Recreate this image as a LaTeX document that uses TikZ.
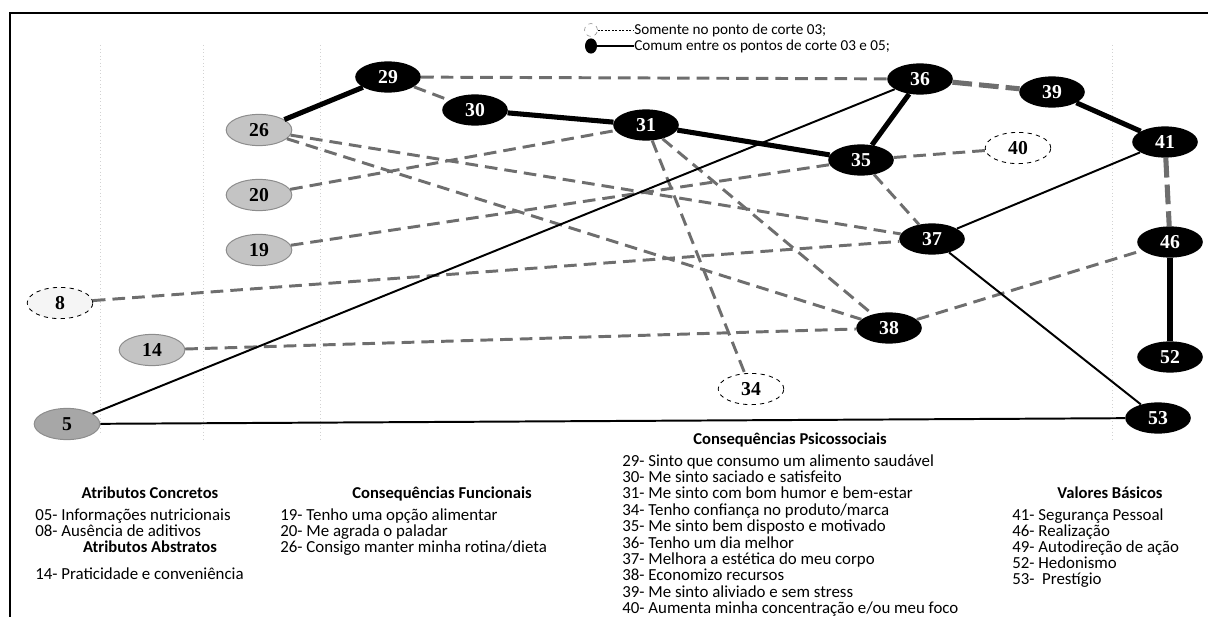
\documentclass[tikz,border=0pt]{standalone}
\usepackage{fontspec}
\setmainfont{Carlito}
\newfontfamily\numfont{Liberation Serif}
\usetikzlibrary{shapes.geometric}
\definecolor{linkgray}{HTML}{6E6E6E}
\definecolor{nodegray}{HTML}{C4C4C4}
\definecolor{nodeedge}{HTML}{8C8C8C}
\begin{document}
\begin{tikzpicture}[x=0.025cm,y=-0.025cm,
  mapnode/.style={ellipse, minimum width=1.64cm, minimum height=0.78cm, inner sep=0pt,
    font=\numfont\bfseries\fontsize{14}{15}\selectfont},
  blk/.style={mapnode, fill=black, text=white},
  gry/.style={mapnode, fill=nodegray, draw=nodeedge, line width=0.7pt},
  dsh/.style={mapnode, fill=white, draw=black, dashed, line width=0.6pt},
  strongline/.style={line width=3.6pt, black},
  stronglink/.style={line width=3.6pt, linkgray, dash pattern=on 14pt off 5pt},
  thinline/.style={line width=1.4pt, black},
  weaklink/.style={line width=2.1pt, linkgray, dash pattern=on 9pt off 5pt},
  gridline/.style={gray!35, dotted, line width=0.5pt},
  legtxt/.style={font=\fontsize{10.8}{12}\selectfont, inner sep=0pt, anchor=west},
  head/.style={font=\bfseries\fontsize{11.8}{13}\selectfont, inner sep=0pt, anchor=base},
  item/.style={font=\fontsize{12}{13}\selectfont, inner sep=0pt, anchor=base west}]
\useasboundingbox (0,0) rectangle (1208,617);
% frame and column guides
\draw[line width=1.4pt] (10,640) -- (10,13) -- (1230,13);
\foreach \gx/\gy in {100/435, 203/440, 320/440, 1112/440}
  \draw[gridline] (\gx,45) -- (\gx,\gy);

% key
\node[circle, draw=gray, dashed, line width=0.4pt, minimum size=0.32cm, inner sep=0pt] (keyA) at (591,30) {};
\node[legtxt] (keyAt) at (634,30) {Somente no ponto de corte 03;};
\draw[black, line width=0.5pt, dash pattern=on 1.5pt off 1pt] (keyA) -- (keyAt);
\node[ellipse, fill=black, minimum width=0.3cm, minimum height=0.38cm, inner sep=0pt] (keyB) at (591,46) {};
\node[legtxt] (keyBt) at (634,46) {Comum entre os pontos de corte 03 e 05;};
\draw[black, line width=0.8pt] (keyB) -- (keyBt);

% attributes, consequences and values
\node[gry] (n26) at (259,130) {26};
\node[gry] (n20) at (259,195) {20};
\node[gry] (n19) at (259,250) {19};
\node[dsh, fill=gray!8] (n8) at (60,303) {8};
\node[gry] (n14) at (152,350) {14};
\node[gry, fill=nodegray!85!black] (n5) at (67,424) {5};
\node[blk] (n29) at (388,77) {29};
\node[blk] (n30) at (475,110) {30};
\node[blk] (n31) at (646,125) {31};
\node[blk] (n36) at (920,79) {36};
\node[blk] (n39) at (1052,92) {39};
\node[blk] (n41) at (1165,142) {41};
\node[blk] (n35) at (861,160) {35};
\node[dsh] (n40) at (1018,148) {40};
\node[blk] (n37) at (932,239) {37};
\node[blk] (n46) at (1170,242) {46};
\node[blk] (n38) at (889,328) {38};
\node[blk] (n52) at (1170,357) {52};
\node[dsh] (n34) at (751,389) {34};
\node[blk] (n53) at (1158,418) {53};

% links found only at cut-off 03
\draw[weaklink] (n29) -- (n36);
\draw[weaklink] (n29) -- (n30);
\draw[weaklink] (n26) -- (n37);
\draw[weaklink] (n26) -- (n38);
\draw[weaklink] (n20) -- (n31);
\draw[weaklink] (n19) -- (n35);
\draw[weaklink] (n8) -- (n37);
\draw[weaklink] (n14) -- (n38);
\draw[weaklink] (n31) -- (n34);
\draw[weaklink] (n31) -- (n38);
\draw[weaklink] (n35) -- (n37);
\draw[weaklink] (n35) -- (n40);
\draw[weaklink] (n38) -- (n46);
\draw[stronglink] (n36) -- (n39);
\draw[stronglink] (n41) -- (n46);
% links common to cut-offs 03 and 05
\draw[thinline] (n5) -- (n36);
\draw[thinline] (n5) -- (n53);
\draw[thinline] (n37) -- (n41);
\draw[thinline] (n37) -- (n53);
\draw[strongline] (n26) -- (n29);
\draw[strongline] (n30) -- (n31);
\draw[strongline] (n31) -- (n35);
\draw[strongline] (n35) -- (n36);
\draw[strongline] (n39) -- (n41);
\draw[strongline] (n46) -- (n52);

% code lists
\node[head] (hAC) at (150,498) {Atributos Concretos};
\node[item] (a05) at (35,520) {05- Informações nutricionais};
\node[item] (a08) at (35,536) {08- Ausência de aditivos};
\node[head] (hAA) at (150,552) {Atributos Abstratos};
\node[item] (a14) at (35,579) {14- Praticidade e conveniência};

\node[head] (hCF) at (442,498) {Consequências Funcionais};
\node[item] (f19) at (280,520) {19- Tenho uma opção alimentar};
\node[item] (f20) at (280,536) {20- Me agrada o paladar};
\node[item] (f26) at (280,552) {26- Consigo manter minha rotina/dieta};

\node[head] (hCP) at (790,444) {Consequências Psicossociais};
\foreach \t [count=\i] in {29- Sinto que consumo um alimento saudável,
  30- Me sinto saciado e satisfeito,
  31- Me sinto com bom humor e bem-estar,
  34- Tenho confiança no produto/marca,
  35- Me sinto bem disposto e motivado,
  36- Tenho um dia melhor,
  37- Melhora a estética do meu corpo,
  38- Economizo recursos,
  39- Me sinto aliviado e sem stress,
  40- Aumenta minha concentração e/ou meu foco}
  \node[item] (p\i) at (622,{466+16.4*(\i-1)}) {\t};

\node[head] (hVB) at (1110,498) {Valores Básicos};
\foreach \t [count=\i] in {41- Segurança Pessoal, 46- Realização,
  49- Autodireção de ação, 52- Hedonismo, 53-\ \ Prestígio}
  \node[item] (v\i) at (1012,{520+16*(\i-1)}) {\t};
\end{tikzpicture}
\end{document}
